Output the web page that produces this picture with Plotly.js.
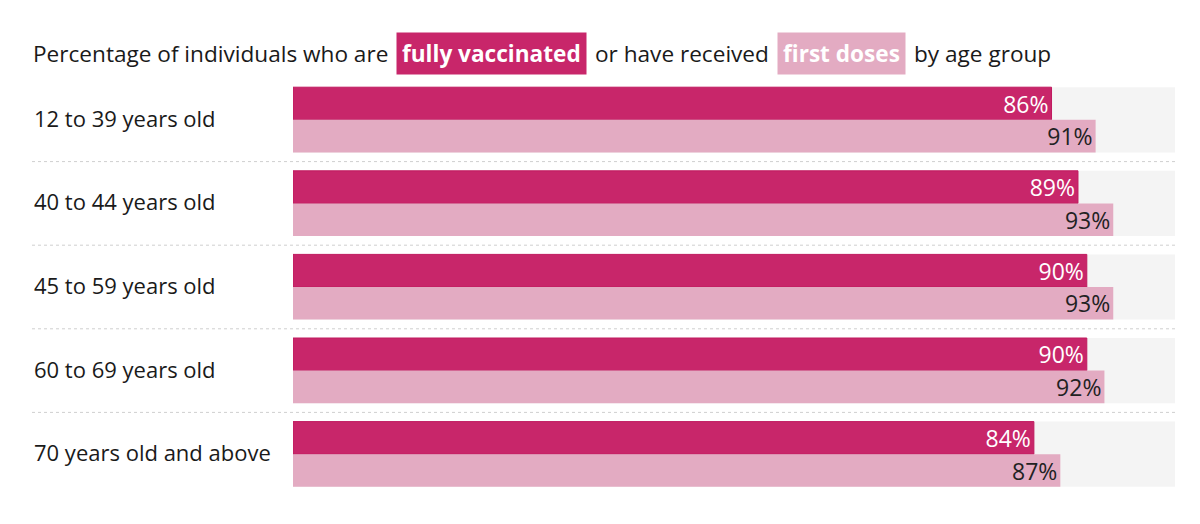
<!DOCTYPE html>
<html>
<head>
<meta charset="utf-8">
<script src="https://cdn.plot.ly/plotly-3.0.1.min.js"></script>
<style>
  html, body { margin: 0; padding: 0; background: #fff; }
  #chart { width: 1200px; height: 524px; }
</style>
</head>
<body>
<div id="chart"></div>
<script>
// ---- data ----
const categories = ["12 to 39 years old", "40 to 44 years old", "45 to 59 years old", "60 to 69 years old", "70 years old and above"];
const fullyVaccinated = [86, 89, 90, 90, 84];
const firstDoses = [91, 93, 93, 92, 87];
const maxValue = 100;
const titleSegs = [
  {t: "Percentage of individuals who are", hl: null},
  {t: "fully vaccinated", hl: "dark"},
  {t: "or have received", hl: null},
  {t: "first doses", hl: "light"},
  {t: "by age group", hl: null}
];

// ---- styles ----
const DARK = "#c8266a";
const DARK_LINE = "#c01a5f";
const LIGHT = "#e3abc2";
const BG = "#f4f4f4";
const FONT = "'Open Sans', Roboto, Arial, sans-serif";
const FS = 22;
const TITLE_FS = 22.6;
const NUM_FS = 23;

const W = 1200, H = 524;
const margin = {l: 293, r: 25, t: 78, b: 28};
const plotW = W - margin.l - margin.r;
const plotH = H - margin.t - margin.b;
const leftPaper = (32 - margin.l) / plotW;

const bgTrace = {
  type: "bar", orientation: "h",
  y: categories, x: categories.map(() => maxValue),
  width: 0.78, offset: -0.39,
  marker: {color: BG},
  hoverinfo: "skip", showlegend: false
};
const fullTrace = {
  type: "bar", orientation: "h", name: "fully vaccinated",
  y: categories, x: fullyVaccinated,
  width: 0.39, offset: -0.39,
  marker: {color: DARK, line: {color: DARK_LINE, width: 1}},
  texttemplate: "%{x}%", textposition: "inside", insidetextanchor: "end",
  textfont: {family: FONT, size: NUM_FS, color: "#ffffff"},
  constraintext: "none", cliponaxis: false,
  showlegend: false
};
const firstTrace = {
  type: "bar", orientation: "h", name: "first doses",
  y: categories, x: firstDoses,
  width: 0.39, offset: 0,
  marker: {color: LIGHT},
  texttemplate: "%{x}%", textposition: "inside", insidetextanchor: "end",
  textfont: {family: FONT, size: NUM_FS, color: "#222222"},
  constraintext: "none", cliponaxis: false,
  showlegend: false
};

const annotations = [];
const shapes = [];

// category labels
categories.forEach((c) => {
  annotations.push({
    xref: "paper", yref: "y", x: leftPaper, y: c, yshift: 2,
    xanchor: "left", yanchor: "middle", text: c, showarrow: false,
    font: {family: FONT, size: FS, color: "#1a1a1a"}
  });
});

// dotted separators between groups
for (let i = 0; i < categories.length - 1; i++) {
  shapes.push({
    type: "line", xref: "paper", yref: "y",
    x0: leftPaper, x1: 1, y0: i + 0.5, y1: i + 0.5,
    line: {color: "#cfcfcf", width: 1, dash: "dot"}
  });
}

// title segments (positions fixed after measuring rendered widths)
const titleY = 1 + (margin.t - 53) / plotH;
const gap = 8, pad = 5;
const titleStart = annotations.length;
titleSegs.forEach((s) => {
  const bg = s.hl === "dark" ? DARK : (s.hl === "light" ? LIGHT : null);
  annotations.push({
    xref: "paper", yref: "paper", x: leftPaper, y: titleY,
    xanchor: "left", yanchor: "middle", showarrow: false,
    text: s.hl ? "<b>" + s.t + "</b>" : s.t,
    font: {family: FONT, size: TITLE_FS, color: s.hl ? "#ffffff" : "#1a1a1a"},
    bgcolor: bg || "rgba(0,0,0,0)", borderpad: bg ? pad : 0
  });
});

const layout = {
  width: W, height: H, margin: margin,
  paper_bgcolor: "#fff", plot_bgcolor: "#fff",
  barmode: "overlay",
  xaxis: {range: [0, maxValue], visible: false, fixedrange: true},
  yaxis: {type: "category", autorange: "reversed", showticklabels: false,
          showgrid: false, zeroline: false, showline: false, ticks: "", fixedrange: true},
  shapes: shapes, annotations: annotations,
  font: {family: FONT}
};

Plotly.newPlot("chart", [bgTrace, fullTrace, firstTrace], layout, {displayModeBar: false, staticPlot: true}).then((gd) => {
  const nodes = gd.querySelectorAll(".annotation");
  const upd = {};
  let px = 32;
  titleSegs.forEach((s, k) => {
    const idx = titleStart + k;
    const node = nodes[idx];
    const bgRect = node ? node.querySelector("rect.bg") : null;
    const w = bgRect ? parseFloat(bgRect.getAttribute("width")) : 0;
    upd["annotations[" + idx + "].x"] = (px - margin.l) / plotW;
    px += w + gap;
  });
  return Plotly.relayout(gd, upd);
});
</script>
</body>
</html>
